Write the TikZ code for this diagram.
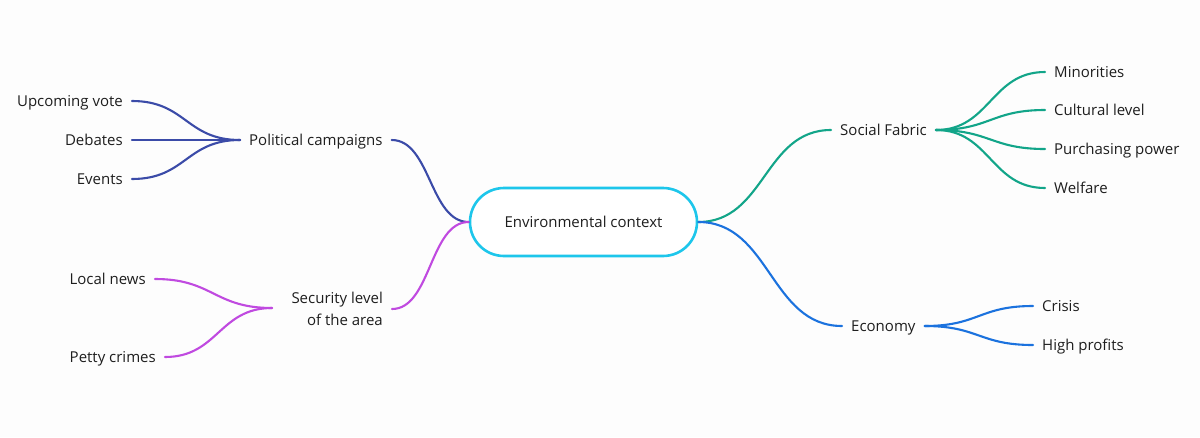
\documentclass[tikz,border=0pt]{standalone}
\usepackage{fontspec}
\setmainfont{Open Sans}
\definecolor{pol}{HTML}{3B4BA8}
\definecolor{sec}{HTML}{C04AE0}
\definecolor{soc}{HTML}{12A589}
\definecolor{eco}{HTML}{1B72DE}
\definecolor{ctr}{HTML}{1DC6EB}
\definecolor{txt}{HTML}{1E1E1E}
\definecolor{bg}{HTML}{FDFDFD}
\begin{document}
\begin{tikzpicture}[x=1pt,y=-1pt,
  lbl/.style={inner xsep=9pt, inner ysep=0pt, text height=10.7pt, text depth=0pt,
    font=\fontsize{15}{22}\selectfont, text=txt},
  mlbl/.style={inner xsep=9pt, inner ysep=0pt, align=right,
    font=\fontsize{15}{22}\selectfont, text=txt},
  conn/.style={line width=2.1pt, line cap=round},
  center/.style={draw=ctr, line width=2.6pt, fill=white, rounded corners=34pt,
    minimum width=227pt, minimum height=68pt, inner sep=0pt,
    font=\fontsize{15}{18}\selectfont, text=txt}]
\fill[bg] (0,0) rectangle (1200,437);
\useasboundingbox (0,0) rectangle (1200,437);

% central node
\node[center] (env) at (583.5,222) {Environmental context};

% first level
\node[lbl, anchor=west] (pc) at (240,140) {Political campaigns};
\node[mlbl, anchor=east] (sec) at (392,309) {Security level\\of the area};
\node[lbl, anchor=west] (sf) at (831,130) {Social Fabric};
\node[lbl, anchor=west] (eco) at (842,326) {Economy};

% join points
\coordinate (secj) at (272,308);

% leaves
\node[lbl, anchor=east] (uv) at (132,101) {Upcoming vote};
\node[lbl, anchor=east] (deb) at (132,140) {Debates};
\node[lbl, anchor=east] (ev) at (132,179) {Events};
\node[lbl, anchor=east] (ln) at (155,279) {Local news};
\node[lbl, anchor=east] (pcr) at (165,357) {Petty crimes};
\node[lbl, anchor=west] (min) at (1045,72) {Minorities};
\node[lbl, anchor=west] (cul) at (1045,110) {Cultural level};
\node[lbl, anchor=west] (pur) at (1045,149) {Purchasing power};
\node[lbl, anchor=west] (wel) at (1045,188) {Welfare};
\node[lbl, anchor=west] (cri) at (1033,306) {Crisis};
\node[lbl, anchor=west] (hp) at (1033,345) {High profits};

% main connectors
\draw[conn, pol] (pc.east) .. controls +(39,0) and +(-39,0) .. (env.west);
\draw[conn, sec] (sec.east) .. controls +(39,0) and +(-39,0) .. (env.west);
\draw[conn, soc] (env.east) .. controls +(67,0) and +(-67,0) .. (sf.west);
\draw[conn, eco] (env.east) .. controls +(72,0) and +(-72,0) .. (eco.west);

% political leaves
\draw[conn, pol] (pc.west) .. controls +(-54,0) and +(54,0) .. (uv.east);
\draw[conn, pol] (pc.west) -- (deb.east);
\draw[conn, pol] (pc.west) .. controls +(-54,0) and +(54,0) .. (ev.east);

% security leaves
\draw[conn, sec] (secj) .. controls +(-58,0) and +(58,0) .. (ln.east);
\draw[conn, sec] (secj) .. controls +(-53,0) and +(53,0) .. (pcr.east);

% social leaves
\draw[conn, soc] (sf.east) .. controls +(54,0) and +(-54,0) .. (min.west);
\draw[conn, soc] (sf.east) .. controls +(54,0) and +(-54,0) .. (cul.west);
\draw[conn, soc] (sf.east) .. controls +(54,0) and +(-54,0) .. (pur.west);
\draw[conn, soc] (sf.east) .. controls +(54,0) and +(-54,0) .. (wel.west);

% economy leaves
\draw[conn, eco] (eco.east) .. controls +(54,0) and +(-54,0) .. (cri.west);
\draw[conn, eco] (eco.east) .. controls +(54,0) and +(-54,0) .. (hp.west);
\end{tikzpicture}
\end{document}
